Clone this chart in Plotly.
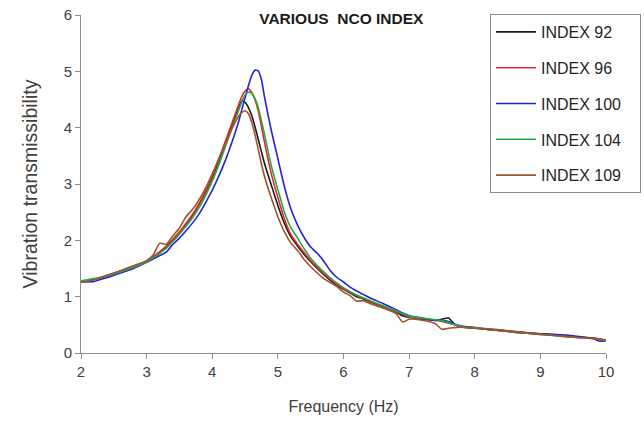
import plotly.graph_objects as go

freq = [2.0, 2.2, 2.4, 2.6, 2.8, 3.0, 3.1, 3.2, 3.3, 3.4, 3.5, 3.6, 3.7, 3.8, 3.9,
        4.0, 4.1, 4.2, 4.3, 4.4, 4.45, 4.5, 4.55, 4.6, 4.65, 4.7, 4.75, 4.8, 4.9,
        5.0, 5.1, 5.2, 5.3, 5.4, 5.5, 5.6, 5.7, 5.8, 5.9, 6.0, 6.1, 6.2, 6.3, 6.4,
        6.6, 6.8, 6.9, 7.0, 7.2, 7.4, 7.5, 7.6, 7.7, 7.8, 8.0, 8.2, 8.4, 8.6, 8.8,
        9.0, 9.2, 9.4, 9.6, 9.8, 9.9, 10.0]

index_92 = [1.26, 1.31, 1.37, 1.45, 1.53, 1.63, 1.70, 1.79, 1.89, 2.01, 2.14, 2.29, 2.45, 2.64, 2.86,
            3.11, 3.41, 3.73, 4.04, 4.36, 4.47, 4.45, 4.36, 4.22, 4.02, 3.80, 3.57, 3.35, 2.98,
            2.62, 2.30, 2.06, 1.90, 1.75, 1.62, 1.50, 1.39, 1.29, 1.20, 1.13, 1.07, 1.00, 0.96, 0.91,
            0.82, 0.73, 0.66, 0.63, 0.60, 0.58, 0.60, 0.62, 0.50, 0.46, 0.44, 0.42, 0.40, 0.38, 0.36,
            0.34, 0.32, 0.30, 0.28, 0.26, 0.25, 0.23]

index_96 = [1.26, 1.31, 1.38, 1.45, 1.53, 1.64, 1.71, 1.80, 1.90, 2.02, 2.15, 2.30, 2.46, 2.65, 2.88,
            3.14, 3.44, 3.76, 4.08, 4.40, 4.55, 4.65, 4.69, 4.63, 4.50, 4.30, 4.02, 3.72, 3.18,
            2.76, 2.38, 2.10, 1.93, 1.78, 1.64, 1.52, 1.41, 1.31, 1.22, 1.14, 1.08, 1.02, 0.97, 0.92,
            0.83, 0.74, 0.69, 0.64, 0.61, 0.58, 0.56, 0.53, 0.50, 0.47, 0.45, 0.43, 0.41, 0.38, 0.36,
            0.34, 0.32, 0.30, 0.28, 0.27, 0.25, 0.23]

index_100 = [1.26, 1.27, 1.34, 1.42, 1.50, 1.61, 1.67, 1.73, 1.79, 1.93, 2.04, 2.17, 2.31, 2.47, 2.67,
             2.89, 3.14, 3.42, 3.74, 4.10, 4.32, 4.53, 4.74, 4.92, 5.02, 5.01, 4.85, 4.52, 3.95,
             3.45, 2.95, 2.55, 2.27, 2.05, 1.88, 1.77, 1.63, 1.46, 1.34, 1.26, 1.17, 1.10, 1.04, 0.98,
             0.88, 0.77, 0.71, 0.66, 0.62, 0.58, 0.58, 0.56, 0.51, 0.48, 0.45, 0.42, 0.40, 0.37, 0.35,
             0.34, 0.33, 0.32, 0.29, 0.26, 0.21, 0.22]

index_104 = [1.28, 1.32, 1.37, 1.44, 1.52, 1.62, 1.69, 1.77, 1.86, 1.98, 2.11, 2.25, 2.40, 2.58, 2.80,
             3.05, 3.34, 3.66, 3.99, 4.30, 4.46, 4.58, 4.63, 4.61, 4.52, 4.36, 4.12, 3.86, 3.32,
             2.90, 2.50, 2.22, 2.04, 1.85, 1.68, 1.55, 1.44, 1.33, 1.24, 1.16, 1.09, 1.03, 0.98, 0.93,
             0.84, 0.75, 0.70, 0.65, 0.62, 0.59, 0.57, 0.54, 0.50, 0.47, 0.45, 0.42, 0.40, 0.37, 0.35,
             0.33, 0.31, 0.29, 0.27, 0.26, 0.24, 0.23]

index_109 = [1.25, 1.30, 1.38, 1.46, 1.55, 1.64, 1.74, 1.95, 1.93, 2.08, 2.22, 2.42, 2.55, 2.72, 2.93,
             3.18, 3.45, 3.72, 3.98, 4.20, 4.27, 4.30, 4.25, 4.10, 3.88, 3.62, 3.35, 3.12, 2.75,
             2.42, 2.15, 1.95, 1.82, 1.66, 1.53, 1.42, 1.32, 1.25, 1.18, 1.08, 1.02, 0.92, 0.93, 0.88,
             0.80, 0.70, 0.55, 0.60, 0.58, 0.52, 0.42, 0.44, 0.45, 0.46, 0.44, 0.42, 0.39, 0.37, 0.35,
             0.33, 0.31, 0.29, 0.27, 0.26, 0.25, 0.23]

series_names = ["INDEX 92", "INDEX 96", "INDEX 100", "INDEX 104", "INDEX 109"]
series_values = [index_92, index_96, index_100, index_104, index_109]
series_colors = ["#1a1a1a", "#e8262b", "#2323d8", "#22a84a", "#a3522b"]

x_ticks = [2, 3, 4, 5, 6, 7, 8, 9, 10]
y_ticks = [0, 1, 2, 3, 4, 5, 6]

FONT = "Liberation Sans, Arial, sans-serif"
PAD = "\u00a0\u00a0\u00a0"  # invisible right padding inside the legend box

fig = go.Figure()
for name, vals, col in zip(series_names, series_values, series_colors):
    fig.add_trace(go.Scatter(
        x=freq, y=vals, name=name + PAD, mode="lines",
        line=dict(color=col, width=1.6, shape="spline", smoothing=0.6),
        legendgroup=name,
    ))

fig.update_layout(
    width=644, height=423,
    margin=dict(l=81, r=38, t=15, b=70, autoexpand=False),
    paper_bgcolor="white", plot_bgcolor="white",
    font=dict(family=FONT, color="#404040"),
    title=dict(text="<b>VARIOUS  NCO INDEX</b>", x=0.530, xanchor="center",
               y=0.956, yanchor="middle", yref="container",
               font=dict(size=15.5, color="#1a1a1a", family=FONT)),
    showlegend=True,
    legend=dict(
        x=0.779, xanchor="left", y=1.003, yanchor="top",
        bordercolor="#8c8c8c", borderwidth=1, bgcolor="white",
        font=dict(size=16, color="#262626", family=FONT),
        tracegroupgap=12, itemwidth=40,
    ),
    xaxis=dict(
        range=[2, 10], tickvals=x_ticks, showgrid=False, zeroline=False,
        showline=True, linecolor="#8c8c8c", linewidth=1,
        ticks="outside", ticklen=5, tickcolor="#8c8c8c",
        tickfont=dict(size=15, color="#404040"), ticklabeloverflow="allow",
        title=dict(text="Frequency (Hz)", font=dict(size=16, color="#404040"), standoff=21),
    ),
    yaxis=dict(
        range=[0, 6], tickvals=y_ticks, showgrid=False, zeroline=False,
        showline=True, linecolor="#8c8c8c", linewidth=1,
        ticks="outside", ticklen=5, tickcolor="#8c8c8c",
        tickfont=dict(size=15, color="#404040"), ticklabeloverflow="allow",
        title=dict(text="Vibration transmissibility", font=dict(size=19.5, color="#404040"), standoff=20),
    ),
)

fig.write_html("out.html", config={"displayModeBar": False},
               post_script="document.body.style.margin='0';")
